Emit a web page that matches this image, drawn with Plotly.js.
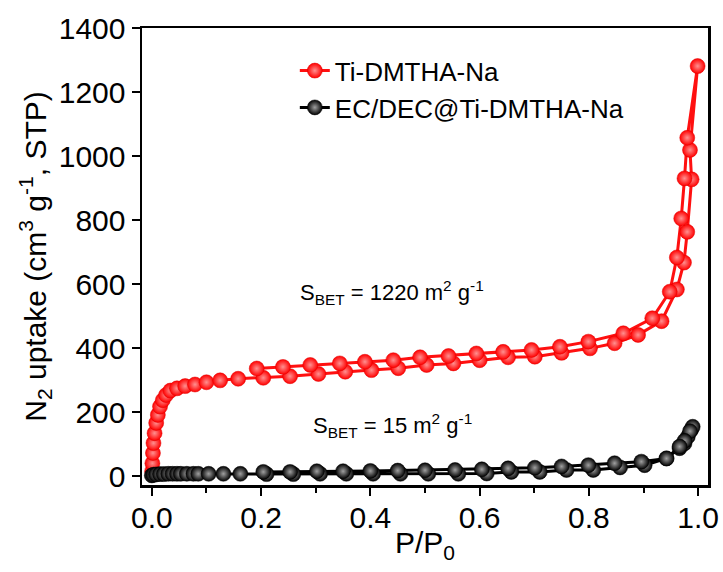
<!DOCTYPE html>
<html>
<head>
<meta charset="utf-8">
<script src="https://cdn.plot.ly/plotly-3.0.1.min.js"></script>
<style>html,body{margin:0;padding:0;background:#fff;}#chart{width:723px;height:572px;}</style>
</head>
<body>
<div id="chart"></div>
<script>
// Ti-DMTHA-Na: adsorption then desorption branch
const redX = [0.0005, 0.001, 0.002, 0.003, 0.005, 0.008, 0.011, 0.015, 0.02, 0.026, 0.034, 0.046, 0.061, 0.079, 0.1, 0.125, 0.158, 0.204, 0.253, 0.305, 0.354, 0.402, 0.451, 0.503, 0.552, 0.6, 0.652, 0.701, 0.75, 0.802, 0.847, 0.89, 0.933, 0.961, 0.974, 0.98, 0.988, 0.985, 0.999,
  0.98, 0.975, 0.969, 0.961, 0.948, 0.916, 0.863, 0.799, 0.747, 0.695, 0.643, 0.594, 0.543, 0.491, 0.442, 0.39, 0.344, 0.29, 0.24, 0.192];
const redY = [15, 40, 72, 103, 134, 166, 191, 217, 237, 253, 267, 274, 281, 286, 293, 299, 304, 307, 312, 319, 326, 331, 337, 347, 352, 362, 371, 373, 385, 399, 415, 441, 484, 583, 667, 763, 927, 1019, 1281,
  1057, 930, 805, 683, 576, 493, 446, 420, 404, 394, 388, 383, 375, 371, 362, 357, 352, 347, 341, 336];

// EC/DEC@Ti-DMTHA-Na: adsorption then desorption branch
const blackX = [0.0, 0.003, 0.008, 0.015, 0.022, 0.03, 0.038, 0.046, 0.053, 0.064, 0.076, 0.085, 0.104, 0.131, 0.162, 0.21, 0.259, 0.308, 0.356, 0.405, 0.455, 0.506, 0.561, 0.613, 0.658, 0.71, 0.759, 0.808, 0.857, 0.902, 0.942, 0.966, 0.975, 0.981, 0.987, 0.99,
  0.985, 0.975, 0.966, 0.942, 0.896, 0.847, 0.799, 0.75, 0.701, 0.652, 0.604, 0.555, 0.5, 0.45, 0.4, 0.35, 0.302, 0.253, 0.204];
const blackY = [2, 4, 5, 6, 6, 7, 7, 7, 7, 7, 7, 7, 7, 7, 7, 6, 6, 7, 7, 7, 7, 7, 7, 8, 13, 13, 19, 19, 27, 34, 55, 87, 102, 123, 144, 154,
  140, 110, 92, 55, 45, 40, 34, 30, 26, 24, 21, 19, 18, 17, 16, 15, 15, 13, 13];

const seriesNames = ['Ti-DMTHA-Na', 'EC/DEC@Ti-DMTHA-Na'];
const xTicks = [0, 0.2, 0.4, 0.6, 0.8, 1.0];
const xTickText = ['0.0', '0.2', '0.4', '0.6', '0.8', '1.0'];
const yTicks = [0, 200, 400, 600, 800, 1000, 1200, 1400];

const FONT = 'Liberation Sans, Arial, sans-serif';

const traces = [
  {
    x: redX, y: redY, name: seriesNames[0], type: 'scatter', mode: 'lines+markers',
    line: {color: '#ff1010', width: 3},
    marker: {color: '#ff0000', size: 15, line: {width: 0.5, color: '#e00000'},
      gradient: {type: 'radial', color: '#ff9090'}}
  },
  {
    x: blackX, y: blackY, name: seriesNames[1], type: 'scatter', mode: 'lines+markers',
    line: {color: '#000000', width: 3},
    marker: {color: '#000000', size: 15, line: {width: 0.5, color: '#000000'},
      gradient: {type: 'radial', color: '#a0a0a0'}}
  }
];

const layout = {
  width: 723, height: 572,
  margin: {l: 142, r: 15, t: 28, b: 87},
  paper_bgcolor: '#ffffff', plot_bgcolor: '#ffffff',
  font: {family: FONT, color: '#000', size: 26},
  showlegend: true,
  legend: {x: 0.27, y: 0.958, xanchor: 'left', yanchor: 'top',
    font: {family: FONT, size: 26, color: '#000'}, bgcolor: 'rgba(0,0,0,0)', borderwidth: 0},
  xaxis: {
    range: [-0.018, 1.018], tickvals: xTicks, ticktext: xTickText,
    showgrid: false, zeroline: false, showline: true, mirror: true,
    linecolor: '#000', linewidth: 2.5,
    ticks: 'outside', ticklen: 8, tickwidth: 2, tickcolor: '#000',
    ticklabelstandoff: -4,
    minor: {dtick: 0.1, tick0: 0, ticks: 'outside', ticklen: 5, tickwidth: 2, tickcolor: '#000', showgrid: false},
    tickfont: {family: FONT, size: 30, color: '#000'},
    title: {text: 'P/P<sub>0</sub>', font: {family: FONT, size: 30, color: '#000'}, standoff: 0}
  },
  yaxis: {
    range: [-28, 1400], tickvals: yTicks,
    showgrid: false, zeroline: false, showline: true, mirror: true,
    linecolor: '#000', linewidth: 2.5,
    ticks: 'outside', ticklen: 8, tickwidth: 2, tickcolor: '#000',
    tickfont: {family: FONT, size: 30, color: '#000'},
    title: {text: 'N<sub>2</sub> uptake (cm<sup>3</sup> g<sup>-1</sup>, STP)', font: {family: FONT, size: 30, color: '#000'}, standoff: 4}
  },
  annotations: [
    {x: 0.44, y: 572, xref: 'x', yref: 'y', showarrow: false,
      text: 'S<sub>BET</sub> = 1220 m<sup>2</sup> g<sup>-1</sup>', font: {family: FONT, size: 22, color: '#000'}},
    {x: 0.44, y: 159, xref: 'x', yref: 'y', showarrow: false,
      text: 'S<sub>BET</sub> = 15 m<sup>2</sup> g<sup>-1</sup>', font: {family: FONT, size: 22, color: '#000'}}
  ]
};

Plotly.newPlot('chart', traces, layout, {displayModeBar: false, staticPlot: true});
</script>
</body>
</html>
